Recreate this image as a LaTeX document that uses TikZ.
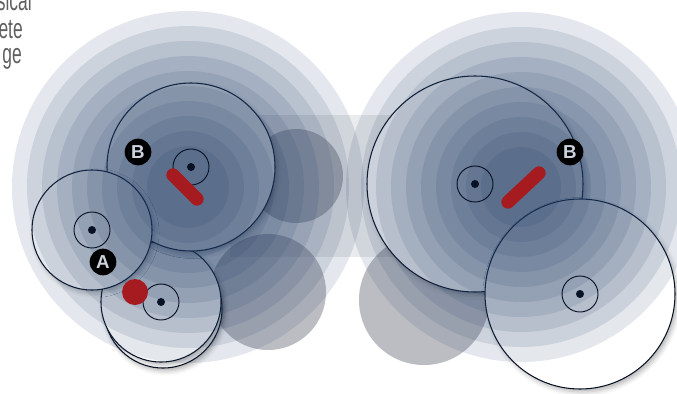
\documentclass[tikz,border=0pt]{standalone}
\usepackage{fontspec}
\setsansfont{Liberation Sans}
\newfontfamily\capfont[FakeStretch=0.62]{Liberation Sans}
\usetikzlibrary{calc, positioning}
\usetikzlibrary{shadows.blur}

\definecolor{ringblue}{RGB}{33,61,103}
\definecolor{gearline}{RGB}{8,18,36}
\definecolor{pinred}{RGB}{165,27,31}
\definecolor{shadegray}{RGB}{50,55,70}
\definecolor{captgray}{RGB}{95,95,95}
\definecolor{badgetext}{RGB}{205,211,222}

\tikzset{
  ring/.style={fill=ringblue, fill opacity=0.12},
  shade disc/.style={fill=shadegray, fill opacity=0.33},
  gear/.style={draw=gearline, fill=white, line width=0.9pt,
    blur shadow={shadow xshift=2pt, shadow yshift=-2.5pt, shadow blur radius=4pt, shadow opacity=30}},
  axle/.style={draw=gearline, line width=0.8pt},
  pinbar/.style={draw=pinred, line width=0.4cm, line cap=round},
  badge/.style={circle, fill=black, inner sep=0pt, minimum size=0.8cm,
    font=\sffamily\bfseries\fontsize{16}{16}\selectfont, text=badgetext},
  captext/.style={font=\capfont\fontsize{24}{24}\selectfont, text=captgray, inner sep=0pt}
}

\begin{document}
\begin{tikzpicture}[x=0.03cm, y=-0.03cm]
\def\ringL{176}
\def\ringR{175}
\def\axR{18}
\def\dotR{4}

\useasboundingbox (0,0) rectangle (677,393);
\clip (0,0) rectangle (677,393);

\coordinate (ringsL) at (188,187);
\coordinate (ringsR) at (521,187);
\coordinate (gB) at (191,167);
\coordinate (gA) at (92,230);
\coordinate (gC) at (161,302);
\coordinate (gCback) at (163,309);
\coordinate (gD) at (475,184);
\coordinate (gE) at (580,294);

% trail and shadows of the moving gears
\fill[shadegray, fill opacity=0.1] (230,115) rectangle (470,257);
\fill[shade disc] (296,176) circle (47);
\fill[shade disc] (268,292) circle (58);
\fill[shade disc] (424,300) circle (65);

% gears, left position
\path[gear] (gCback) circle (59);
\path[gear] (gC) circle (60);
\path[gear] (gB) circle (84);
\path[gear] (gA) circle (60);

% gears, right position
\path[gear] (gD) circle (108);
\path[gear] (gE) circle (95);

% field rings
\foreach \k in {0,...,9} {
  \fill[ring] (ringsL) circle ({\ringL-15*\k});
  \fill[ring] (ringsR) circle ({\ringR-15*\k});
}

% axles
\foreach \c in {gB, gA, gC, gD, gE} {
  \draw[axle] (\c) circle (\axR);
  \fill[gearline] (\c) circle (\dotR);
}

\draw[pinbar] (173,175) -- (197,199);
\draw[pinbar] (508,202) -- (539,173);
\fill[pinred] (135,292) circle (13);

\node[badge] (badgeBL) at (138,152) {B};
\node[badge] (badgeA) at (103,262) {A};
\node[badge] (badgeBR) at (570,152) {B};

\node[captext, anchor=base east] (capI) at (32,10) {sical};
\node[captext, anchor=base east] (capII) at (23,38) {ete};
\node[captext, anchor=base east] (capIII) at (22,63) {ge};
\end{tikzpicture}
\end{document}
